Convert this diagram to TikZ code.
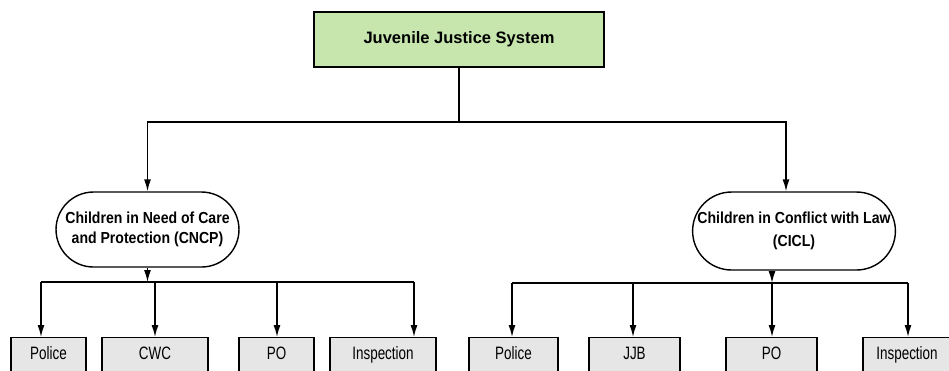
\documentclass[tikz,border=0pt]{standalone}
\usepackage{fontspec}
\setmainfont{Liberation Sans}
\newfontfamily\leaffont[FakeStretch=0.75]{Liberation Sans}
\newfontfamily\groupfont[FakeStretch=0.88]{Liberation Sans}
\usetikzlibrary{arrows.meta,shapes.misc}
\definecolor{titlegreen}{HTML}{C6E6AE}
\definecolor{leafgray}{HTML}{E6E6E6}
\tikzset{
  sysbox/.style={draw=black,fill=titlegreen,line width=0.8pt,inner sep=0pt,
    minimum width=5.8cm,minimum height=1.1cm,font=\bfseries\fontsize{9.4}{11}\selectfont},
  group/.style={draw=black,line width=0.8pt,rounded rectangle,inner sep=0pt,align=center,
    minimum height=1.5cm,font=\groupfont\bfseries\fontsize{9.1}{12}\selectfont},
  leaf/.style={draw=black,fill=leafgray,line width=0.8pt,inner sep=0pt,
    text height=7.6pt,text depth=2.2pt,
    minimum height=0.68cm,font=\leaffont\fontsize{10.2}{12}\selectfont},
  line/.style={draw=black,line width=0.8pt},
  arrow/.style={-{Latex[length=2.4mm,width=1.4mm]},draw=black,line width=0.8pt}
}
\begin{document}
\begin{tikzpicture}[x=0.02cm,y=-0.02cm]
  \path[use as bounding box] (0,0) rectangle (949,370);
  \clip (0,0) rectangle (949,370);

  % Top of the tree.
  \node[sysbox] (jjs) at (459,39.5) {Juvenile Justice System};
  \coordinate (hub) at (459,122);
  \coordinate (cicl-in) at (786,122);

  \node[group,minimum width=3.66cm] (cncp) at (147.5,229.5)
    {Children in Need of Care\\[-1pt]and Protection (CNCP)};
  \node[group,minimum width=4.0cm,minimum height=1.56cm] (cicl) at (794,231)
    {Children in Conflict with Law\\[1pt](CICL)};

  \draw[line] (jjs.south) -- (hub);
  \draw[arrow] (hub) -| (cncp.north);
  \draw[arrow] (hub) -- (cicl-in) -- (cicl-in |- cicl.north);

  % CNCP branch.
  \coordinate (b1) at (41,282);
  \coordinate (b2) at (155,282);
  \coordinate (b3) at (277,282);
  \coordinate (b4) at (414,282);
  \node[leaf,minimum width=1.5cm,anchor=north] (police-a) at (48.5,337) {Police};
  \node[leaf,minimum width=2.12cm,anchor=north] (cwc) at (155,337) {CWC};
  \node[leaf,minimum width=1.5cm,anchor=north] (po-a) at (276.5,337) {PO};
  \node[leaf,minimum width=2.12cm,anchor=north] (insp-a) at (383,337) {Inspection};

  \draw[arrow] (cncp.south) -- (cncp.south |- b1);
  \draw[line] (b1) -- (b4);
  \draw[arrow] (b1) -- (b1 |- police-a.north);
  \draw[arrow] (b2) -- (b2 |- cwc.north);
  \draw[arrow] (b3) -- (b3 |- po-a.north);
  \draw[arrow] (b4) -- (b4 |- insp-a.north);

  % CICL branch.
  \coordinate (c1) at (512,283);
  \coordinate (c2) at (633,283);
  \coordinate (c3) at (772,283);
  \coordinate (c4) at (908,283);
  \node[leaf,minimum width=1.78cm,anchor=north] (police-b) at (513.5,337) {Police};
  \node[leaf,minimum width=1.82cm,anchor=north] (jjb) at (634.5,337) {JJB};
  \node[leaf,minimum width=1.82cm,anchor=north] (po-b) at (771.5,337) {PO};
  \node[leaf,minimum width=1.76cm,anchor=north] (insp-b) at (907,337) {Inspection};

  \draw[arrow] (c3 |- cicl.south) -- (c3);
  \draw[line] (c1) -- (c4);
  \draw[arrow] (c1) -- (c1 |- police-b.north);
  \draw[arrow] (c2) -- (c2 |- jjb.north);
  \draw[arrow] (c3) -- (c3 |- po-b.north);
  \draw[arrow] (c4) -- (c4 |- insp-b.north);
\end{tikzpicture}
\end{document}
